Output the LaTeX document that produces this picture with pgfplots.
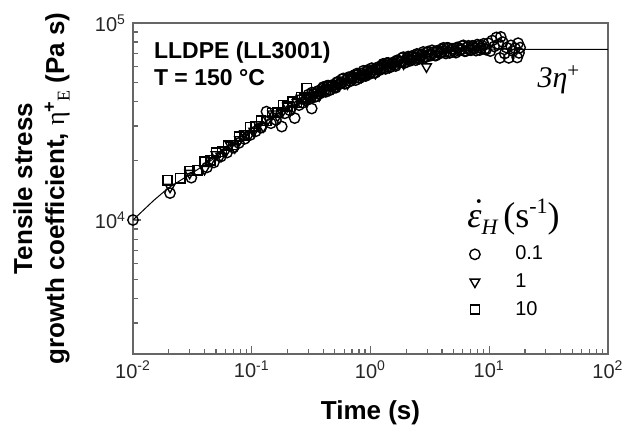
\documentclass[border=0pt]{standalone}
\usepackage{fontspec}
\setmainfont{Liberation Sans}
\newfontfamily\serif{Liberation Serif}
\usepackage{pgfplots}
\pgfplotsset{compat=1.18}
\usetikzlibrary{calc}

\begin{document}
\begin{tikzpicture}
\begin{axis}[
    scale only axis, width=237.5pt, height=165.5pt,
    xmode=log, ymode=log,
    xmin=0.01, xmax=100, ymin=2090, ymax=1e5,
    axis line style={draw=black!60, line width=0.8pt},
    tick style={draw=black!60, line width=0.6pt},
    tick align=inside, xtick pos=bottom, ytick pos=left,
    major tick length=4pt, minor tick length=2.5pt,
    xtick={0.01,0.1,1,10,100},
    xticklabels={10\textsuperscript{-2},10\textsuperscript{-1},10\textsuperscript{0},10\textsuperscript{1},10\textsuperscript{2}},
    minor xtick={0.02,0.03,0.04,0.05,0.06,0.07,0.08,0.09,0.2,0.3,0.4,0.5,0.6,0.7,0.8,0.9,2,3,4,5,6,7,8,9,20,30,40,50,60,70,80,90},
    ytick={1e4,1e5},
    yticklabels={10\textsuperscript{4},10\textsuperscript{5}},
    minor ytick={3000,4000,5000,6000,7000,8000,9000,20000,30000,40000,50000,60000,70000,80000,90000},
    tick label style={font=\fontsize{10}{12}\selectfont, text=black!85},
    xlabel={Time (s)},
    xlabel style={font=\bfseries\fontsize{13}{15}\selectfont, at={(rel axis cs:0.5,0)}, anchor=base, yshift=-33pt},
    ylabel={Tensile stress\\growth coefficient, {\serif\mdseries η}\textsuperscript{+}\kern-0.05em\raisebox{-0.4ex}{\serif\mdseries\fontsize{9}{10}\selectfont E} (Pa s)},
    ylabel style={align=center, font=\bfseries\fontsize{13}{16}\selectfont, at={(rel axis cs:-0.1326,0.5)}, anchor=south, inner sep=0pt},
    legend style={at={(rel axis cs:0.695,0.343)}, anchor=north west, draw=none, fill=none,
        font=\fontsize{10}{12}\selectfont, column sep=0pt, row sep=4.3pt,
        nodes={inner sep=0pt, text height=7.5pt, text depth=2pt}},
    legend cell align=left,
    legend image code/.code={\draw[#1, line width=0.5pt] plot coordinates {(0pt,0pt)}; \path (-2.5pt,0pt) (20pt,0pt);},
]
\coordinate (sw) at (rel axis cs:0,0);
\coordinate (ne) at (rel axis cs:1,1);

% 3 eta+ line
\addplot[black, line width=0.5pt, forget plot] coordinates {
(0.01,10000)(0.015,12600)(0.02,14600)(0.03,17000)(0.04,19000)(0.05,20900)(0.07,24200)(0.1,28300)
(0.15,33200)(0.2,36800)(0.3,41800)(0.5,48300)(0.7,52300)(1,56500)(1.5,61500)(2,65000)(3,69000)
(5,72300)(7,73300)(10,73700)(20,73500)(100,73500)
};

% 0.1 s^-1
\addplot[only marks, mark=o, mark size=2.6pt, mark options={black, line width=0.7pt}] coordinates {
(0.01,10000)(0.0205,13700)(0.031,16400)(0.042,18500)(0.048,19600)(0.055,21000)(0.062,22000)
(0.07,23300)(0.078,24600)(0.087,25800)(0.097,27000)(0.108,28200)(0.12,29400)(0.133,35500)
(0.145,31000)(0.16,32200)(0.179,29800)(0.19,34800)(0.21,36000)(0.23,32900)(0.25,38300)
(0.27,39400)(0.285,40600)(0.32,36800)
(0.30,43300)(0.315,41500)(0.33,43600)(0.35,42400)(0.365,45300)(0.385,44600)(0.40,47300)(0.42,44700)
(0.44,48100)(0.46,46000)(0.485,48400)(0.51,46900)(0.535,50200)(0.56,49200)(0.59,52300)(0.62,49400)
(0.65,53000)(0.68,50700)(0.71,53000)(0.75,51300)(0.79,54900)(0.83,53900)(0.87,57200)(0.91,53800)
(0.96,57900)(1.0,55300)(1.05,57900)(1.1,55900)(1.16,59700)(1.22,58500)(1.28,62100)(1.34,58500)
(1.41,62700)(1.48,60000)(1.55,62700)(1.63,60500)(1.71,64600)(1.8,63300)(1.89,67100)(1.98,63100)
(2.08,67600)(2.18,64400)(2.29,67300)(2.4,64800)(2.52,69000)(2.65,67400)(2.78,71300)(2.92,67000)
(3.07,71700)(3.22,68300)(3.38,71100)(3.55,68300)(3.73,72600)(3.91,70900)(4.11,74800)(4.31,70000)
(4.53,74700)(4.75,71000)(4.99,73800)(5.24,70700)(5.5,75000)(5.78,73100)(6.06,77000)(6.37,72000)
(6.69,76600)(7.02,72700)(7.37,75500)(7.74,72400)(8.13,76600)(8.53,74500)(8.96,78400)(9.4,73200)
(0.307,41900)(0.322,44400)(0.34,42200)(0.357,44800)(0.375,43800)(0.392,46400)(0.41,45300)(0.43,48000)
(0.45,45500)(0.472,48300)(0.497,47300)(0.522,50100)(0.547,49000)(0.575,51800)(0.605,49100)(0.635,52000)
(0.665,50700)(0.695,53600)(0.73,52300)(0.77,55400)(0.81,52500)(0.85,55500)(0.89,54100)(0.935,57200)
(0.98,55900)(1.025,59000)(1.075,55900)(1.13,59100)(1.19,57600)(1.25,60900)(1.31,59400)(1.375,62700)
(1.445,59400)(1.515,62700)(1.59,61200)(1.67,64600)(1.755,63000)(1.845,66400)(1.935,62800)(2.03,66300)
(2.13,64500)(2.235,68000)(2.345,66200)(2.46,69700)(2.585,65800)(2.715,69400)(2.85,67500)(3.0,71100)
(3.145,69100)(3.3,72700)(3.465,68500)(3.64,72100)(3.82,70000)(4.01,73500)(4.21,71300)(4.42,74900)
(4.64,70500)(4.87,74000)(5.11,71700)(5.37,75200)(5.64,72900)(5.92,76500)(6.21,71900)(6.53,75400)
(6.85,73000)(7.19,76600)(7.55,74200)(7.93,77700)(8.33,72900)(8.74,76500)(9.18,73900)
(9.8,79000)(10.2,72000)(10.6,81500)(11,76000)(11.5,84500)(12,78000)(12.5,85000)(12.3,66500)
(13,80000)(13.5,70000)(14,75000)(14.6,66500)(15.2,77000)(15.8,72000)(16.5,74500)(17.2,66800)
(17.5,79000)(17.8,70500)(18.2,75000)
};
\addlegendentry{0.1}

% 1 s^-1
\addplot[only marks, mark=triangle, mark size=2.8pt, mark options={black, line width=0.7pt, rotate=180}] coordinates {
(0.0205,14700)(0.03,17300)(0.04,18100)(0.045,20000)(0.05,21500)(0.055,21100)(0.06,22100)(0.066,24000)
(0.072,23300)(0.079,25600)(0.087,27400)(0.095,26800)(0.104,28300)(0.114,30500)(0.125,29800)(0.137,32500)
(0.15,34600)(0.165,33700)(0.18,35300)(0.2,37900)(0.22,36700)(0.24,39600)(0.26,41500)(0.285,40300)
(0.31,41800)(0.34,44600)(0.37,42800)(0.405,46200)(0.445,48400)(0.485,46700)(0.53,48400)(0.58,51500)
(0.64,49200)(0.7,52900)(0.765,55400)(0.84,53200)(0.92,54900)(1.0,58100)(1.1,55600)(1.2,59600)
(1.32,62200)(1.45,59800)(1.58,61500)(1.73,65100)(1.9,62100)(2.08,66300)(2.28,68900)(2.5,65800)
(2.72,67400)(2.96,60000)
};
\addlegendentry{1}

% 10 s^-1
\addplot[only marks, mark=square, mark size=2.3pt, mark options={black, line width=0.7pt}] coordinates {
(0.0195,15900)(0.025,16300)(0.03,17700)(0.035,17900)(0.04,19800)(0.045,20100)(0.05,22000)(0.056,22200)
(0.063,23900)(0.07,24000)(0.078,26500)(0.087,26900)(0.097,29600)(0.108,29900)(0.12,31900)(0.133,31800)
(0.148,34900)(0.165,35100)(0.183,38200)(0.2,37700)(0.22,39900)(0.24,39200)(0.26,42100)(0.275,41400)
(0.29,46600)
};
\addlegendentry{10}

\node[anchor=base west, font=\bfseries\fontsize{11.5}{14}\selectfont] at (rel axis cs:0.0295,0.894) {LLDPE (LL3001)};
\node[anchor=base west, font=\bfseries\fontsize{11.5}{14}\selectfont] at (rel axis cs:0.0295,0.81) {T = 150 °C};
\node[anchor=base west, inner sep=0pt, font=\serif\fontsize{15}{18}\selectfont] at (rel axis cs:0.851,0.804) {\itshape 3η\textsuperscript{\upshape +}};
\node[anchor=base west, inner sep=0pt, font=\serif\fontsize{18}{20}\selectfont] at (rel axis cs:0.703,0.381)
  {{\itshape\ooalign{ε\cr\hidewidth\raisebox{0.12em}{\kern0.12em˙}\hidewidth\cr}}\raisebox{-0.4ex}{\fontsize{11}{12}\selectfont\itshape H}\,(s\raisebox{0.85ex}{\fontsize{11}{12}\selectfont -1})};
\end{axis}
\pgfresetboundingbox
\path ($(sw)+(-66.5pt,-37pt)$) rectangle ($(ne)+(12.5pt,11.5pt)$);
\end{tikzpicture}
\end{document}
